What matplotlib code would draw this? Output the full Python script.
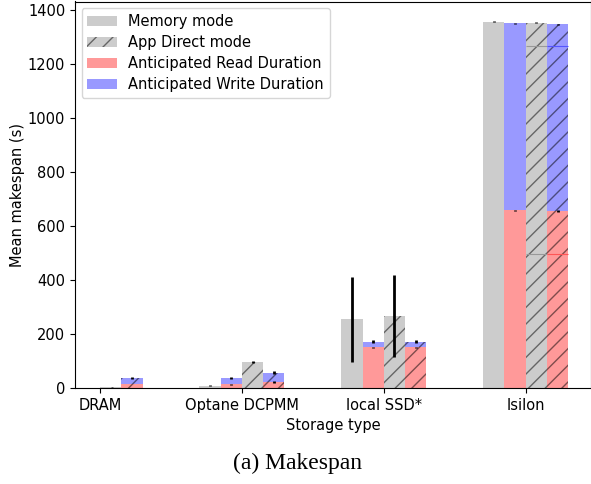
import numpy as np
import matplotlib
matplotlib.use("Agg")
import matplotlib.pyplot as plt
from matplotlib.patches import Patch

###  Data
storage = ["DRAM", "Optane DCPMM", "local SSD*", "Isilon"]

mem_total = [np.nan, 9, 255, 1356]
mem_total_err = [0, 1, 157, 3]
mem_read = [np.nan, 13, 150, 657]
mem_read_err = [0, 3, 3, 2]
mem_write_top = [np.nan, 38, 172, 1350]
mem_write_err = [0, 4, 4, 2]

app_total = [3, 97, 265, 1352]
app_total_err = [0, 3, 152, 2]
app_read = [15, 22, 150, 655]
app_read_err = [1, 4, 3, 2]
app_write_top = [38, 57, 172, 1345]
app_write_err = [3, 7, 4, 2]

# faint inner lines visible inside the Isilon App Direct bars
app_inner_total = [np.nan, np.nan, np.nan, 1267]
app_inner_read = [np.nan, np.nan, np.nan, 494]

###  Style
plt.rcParams["font.size"] = 10.5
grey = (0, 0, 0, 0.2)
red = (1, 0, 0, 0.4)
blue = (0, 0, 1, 0.4)
hatch_col = (0, 0, 0, 0.5)
w = 0.15
x = np.arange(len(storage))

fig = plt.figure(figsize=(5.91, 4.84), dpi=100)
ax = fig.add_axes([75/591, 96/484, 516/591, 386.5/484])

mem_write = np.array(mem_write_top) - np.array(mem_read)
app_write = np.array(app_write_top) - np.array(app_read)
eb = dict(fmt="none", ecolor="black", elinewidth=2, capsize=0)

# Memory mode
ax.bar(x - 1.5*w, mem_total, w, color=grey, linewidth=0)
ax.errorbar(x - 1.5*w, mem_total, yerr=mem_total_err, **eb)
ax.bar(x - 0.5*w, mem_read, w, color=red, linewidth=0)
ax.bar(x - 0.5*w, mem_write, w, bottom=mem_read, color=blue, linewidth=0)
ax.errorbar(x - 0.5*w, mem_read, yerr=mem_read_err, **eb)
ax.errorbar(x - 0.5*w, mem_write_top, yerr=mem_write_err, **eb)

# App Direct mode
ax.bar(x + 0.5*w, app_total, w, color=grey, hatch="//", edgecolor=hatch_col, linewidth=0)
ax.errorbar(x + 0.5*w, app_total, yerr=app_total_err, **eb)
ax.bar(x + 1.5*w, app_read, w, color=red, hatch="//", edgecolor=hatch_col, linewidth=0)
ax.bar(x + 1.5*w, app_write, w, bottom=app_read, color=blue, hatch="//", edgecolor=hatch_col, linewidth=0)
ax.errorbar(x + 1.5*w, app_read, yerr=app_read_err, **eb)
ax.errorbar(x + 1.5*w, app_write_top, yerr=app_write_err, **eb)

ax.hlines(app_inner_total, x, x + w, color="#999999", lw=0.8)
ax.hlines(app_inner_total, x + w, x + 2*w, color="#5555ff", lw=0.8)
ax.hlines(app_inner_read, x, x + w, color="#999999", lw=0.8)
ax.hlines(app_inner_read, x + w, x + 2*w, color="#ff5555", lw=0.8)

ax.set_xticks(x)
ax.set_xticklabels(storage)
ax.set_xlim(-0.176, 3.46)
ax.set_ylim(0, 1430)
ax.set_yticks(np.arange(0, 1401, 200))
ax.set_xlabel("Storage type")
ax.set_ylabel("Mean makespan (s)", labelpad=2)

handles = [Patch(color=grey, linewidth=0),
           Patch(facecolor=grey, hatch="//", edgecolor=hatch_col, linewidth=0),
           Patch(color=red, linewidth=0),
           Patch(color=blue, linewidth=0)]
ax.legend(handles, ["Memory mode", "App Direct mode",
                    "Anticipated Read Duration", "Anticipated Write Duration"],
          loc="upper left", labelspacing=0.42, borderaxespad=0.45)

fig.text(0.503, 0.043, "(a) Makespan", ha="center", va="center",
         family="Liberation Serif", fontsize=17)

plt.savefig("out.png", dpi=100)
